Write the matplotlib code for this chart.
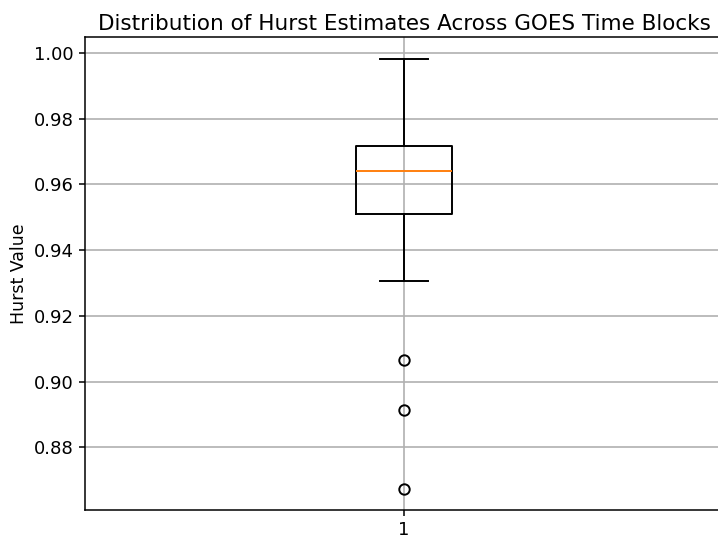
import matplotlib
matplotlib.use("Agg")
import matplotlib.pyplot as plt

# box statistics
labels = ["1"]
whislo = [0.9305]
q1 = [0.9511]
med = [0.9642]
q3 = [0.9718]
whishi = [0.9983]
fliers = [[0.9065, 0.8913, 0.8675]]

stats = []
for i in range(len(labels)):
    stats.append(dict(label=labels[i], whislo=whislo[i], q1=q1[i], med=med[i],
                      q3=q3[i], whishi=whishi[i], fliers=fliers[i]))

lw = 1.4
fig = plt.figure(figsize=(7.18, 5.43), dpi=100)
ax = fig.add_axes([85/718, 33/543, 638/718, 473/543])
ax.bxp(stats, widths=0.15,
       boxprops=dict(linewidth=lw),
       whiskerprops=dict(linewidth=lw),
       capprops=dict(linewidth=lw),
       medianprops=dict(linewidth=lw, color="C1"),
       flierprops=dict(markersize=7.5, markeredgewidth=lw))
ax.set_title("Distribution of Hurst Estimates Across GOES Time Blocks", fontsize=15.5, pad=5)
ax.set_ylabel("Hurst Value", fontsize=12.5)
ax.tick_params(labelsize=13, width=1.1, length=4.5)
for s in ax.spines.values():
    s.set_linewidth(1.1)
ax.grid(True, linewidth=1.2)

fig.savefig("out.png", dpi=100)
